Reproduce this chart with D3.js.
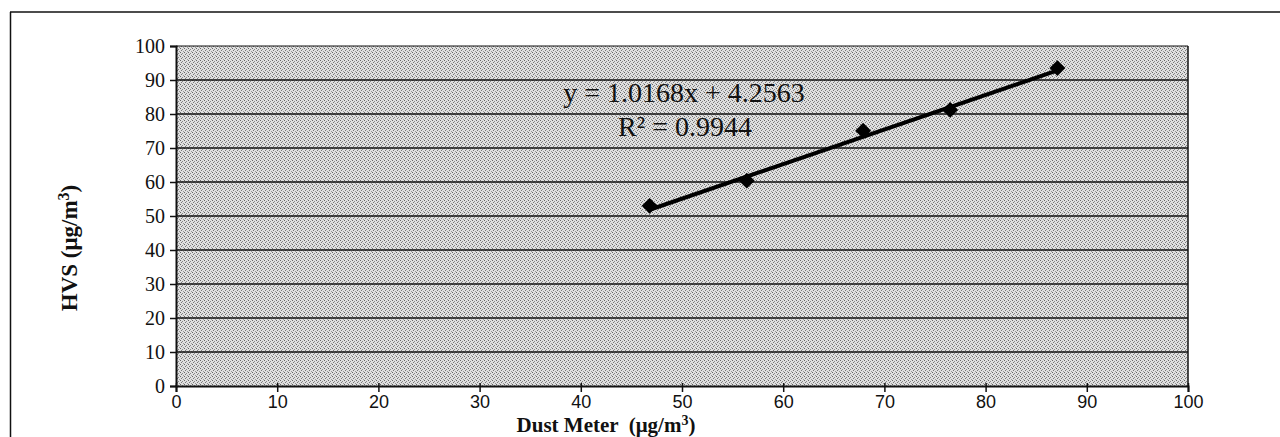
<!DOCTYPE html>
<html>
<head>
<meta charset="utf-8">
<script src="https://cdn.jsdelivr.net/npm/d3@7"></script>
<style>
  body { margin: 0; background: #fff; }
  svg { display: block; }
</style>
</head>
<body>
<div id="chart"></div>
<script>
// readings
const dustMeter = [46.8, 56.4, 67.9, 76.5, 87.1];
const hvs = [53.0, 60.4, 75.1, 81.2, 93.5];
const xTicks = [0, 10, 20, 30, 40, 50, 60, 70, 80, 90, 100];
const yTicks = [0, 10, 20, 30, 40, 50, 60, 70, 80, 90, 100];
const slope = 1.0168, intercept = 4.2563;
const eqText = "y = 1.0168x + 4.2563";
const r2Text = "R² = 0.9944";

const width = 1280, height = 437;
const margin = { left: 176, right: 92, top: 46, bottom: 51 };
const serif = '"Liberation Serif", "Times New Roman", serif';

const svg = d3.select('#chart').append('svg')
    .attr('width', width)
    .attr('height', height);

// stipple fill for plot area
const defs = svg.append('defs');
const pat = defs.append('pattern')
    .attr('id', 'stip')
    .attr('width', 4).attr('height', 4)
    .attr('patternUnits', 'userSpaceOnUse');
pat.append('rect').attr('width', 4).attr('height', 4).attr('fill', '#e0e0e0');
pat.append('rect').attr('x', 0).attr('y', 0).attr('width', 1).attr('height', 1).attr('fill', '#666');
pat.append('rect').attr('x', 2).attr('y', 1).attr('width', 1).attr('height', 1).attr('fill', '#888');
pat.append('rect').attr('x', 1).attr('y', 2).attr('width', 1).attr('height', 1).attr('fill', '#777');
pat.append('rect').attr('x', 3).attr('y', 3).attr('width', 1).attr('height', 1).attr('fill', '#999');

// outer frame (top and left only visible)
svg.append('line').attr('x1', 10).attr('x2', width).attr('y1', 12).attr('y2', 12)
    .attr('stroke', '#111').attr('stroke-width', 1.5);
svg.append('line').attr('x1', 10.5).attr('x2', 10.5).attr('y1', 12).attr('y2', height)
    .attr('stroke', '#111').attr('stroke-width', 1.5);

const x = d3.scaleLinear().domain([0, 100]).range([margin.left, width - margin.right]);
const y = d3.scaleLinear().domain([0, 100]).range([height - margin.bottom, margin.top]);

svg.append('rect')
    .attr('x', x(0)).attr('y', y(100))
    .attr('width', x(100) - x(0)).attr('height', y(0) - y(100))
    .attr('fill', 'url(#stip)');

// horizontal gridlines
svg.append('g').selectAll('line').data(yTicks.filter(d => d > 0)).join('line')
    .attr('x1', x(0)).attr('x2', x(100))
    .attr('y1', d => y(d)).attr('y2', d => y(d))
    .attr('stroke', '#111').attr('stroke-width', d => d === 100 ? 1 : 1.6);

// right border
svg.append('line').attr('x1', x(100)).attr('x2', x(100)).attr('y1', y(100)).attr('y2', y(0))
    .attr('stroke', '#111').attr('stroke-width', 1.5);

// axes
const yAxis = svg.append('g')
    .attr('transform', `translate(${x(0)},0)`)
    .call(d3.axisLeft(y).tickValues(yTicks).tickSize(6).tickPadding(5));
yAxis.select('.domain').attr('stroke', '#111').attr('stroke-width', 2);
yAxis.selectAll('.tick line').attr('stroke', '#111').attr('stroke-width', 1.5);
yAxis.selectAll('text')
    .attr('font-family', serif)
    .attr('font-size', 20).attr('fill', '#111');

const xAxis = svg.append('g')
    .attr('transform', `translate(0,${y(0)})`)
    .call(d3.axisBottom(x).tickValues(xTicks).tickSize(6).tickPadding(3));
xAxis.select('.domain').attr('stroke', '#111').attr('stroke-width', 2);
xAxis.selectAll('.tick line').attr('stroke', '#111').attr('stroke-width', 1.5).attr('y1', -3);
xAxis.selectAll('text')
    .attr('font-family', '"Liberation Sans", Arial, sans-serif')
    .attr('font-size', 18).attr('fill', '#111');

// trendline
const x0 = d3.min(dustMeter), x1 = d3.max(dustMeter);
svg.append('line')
    .attr('x1', x(x0)).attr('y1', y(slope * x0 + intercept))
    .attr('x2', x(x1)).attr('y2', y(slope * x1 + intercept))
    .attr('stroke', '#000').attr('stroke-width', 4);

// markers
const pts = dustMeter.map((d, i) => [d, hvs[i]]);
svg.append('g').selectAll('path').data(pts).join('path')
    .attr('transform', d => `translate(${x(d[0])},${y(d[1])})`)
    .attr('d', d3.symbol(d3.symbolDiamond2, 160))
    .attr('fill', '#000');

// equation
svg.append('text')
    .attr('x', 684).attr('y', 102)
    .attr('text-anchor', 'middle')
    .attr('font-family', serif)
    .attr('font-size', 28).attr('fill', '#111')
    .text(eqText);
svg.append('text')
    .attr('x', 685).attr('y', 136)
    .attr('text-anchor', 'middle')
    .attr('font-family', serif)
    .attr('font-size', 28).attr('fill', '#111')
    .text(r2Text);

// axis titles
const xt = svg.append('text')
    .attr('x', 606).attr('y', 432)
    .attr('text-anchor', 'middle')
    .attr('font-family', serif)
    .attr('font-size', 21).attr('font-weight', 'bold').attr('fill', '#111')
    .attr('xml:space', 'preserve');
xt.append('tspan').text('Dust Meter  (μg/m');
xt.append('tspan').attr('dy', -7).attr('font-size', 14).text('3');
xt.append('tspan').attr('dy', 7).text(')');

const yt = svg.append('text')
    .attr('transform', 'translate(77,248) rotate(-90)')
    .attr('text-anchor', 'middle')
    .attr('font-family', serif)
    .attr('font-size', 23).attr('font-weight', 'bold').attr('fill', '#111');
yt.append('tspan').text('HVS (μg/m');
yt.append('tspan').attr('dy', -8).attr('font-size', 16).text('3');
yt.append('tspan').attr('dy', 8).text(')');
</script>
</body>
</html>
